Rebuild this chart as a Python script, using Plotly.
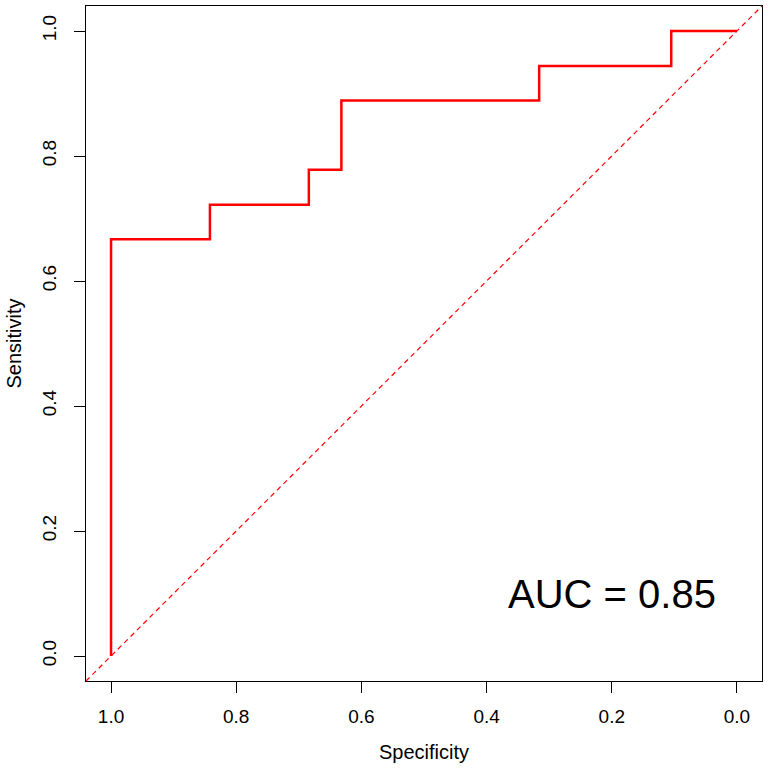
import plotly.graph_objects as go

# ROC curve points (specificity, sensitivity)
specificity = [1.0, 1.0, 0.842, 0.684, 0.632, 0.316, 0.105, 0.0]
sensitivity = [0.0, 0.667, 0.722, 0.778, 0.889, 0.944, 1.0, 1.0]
tick_vals = [0.0, 0.2, 0.4, 0.6, 0.8, 1.0]
tick_text = ["0.0", "0.2", "0.4", "0.6", "0.8", "1.0"]
auc_label = "AUC = 0.85"
auc_pos = (0.2, 0.1)

FONT = "Liberation Sans, Arial, sans-serif"

fig = go.Figure()
fig.add_trace(go.Scatter(
    x=specificity, y=sensitivity, mode="lines",
    line=dict(color="#FF0000", width=2.5, shape="hv"),
    showlegend=False, hoverinfo="skip",
))

# diagonal reference line (abline a=1, b=-1) spanning the plot region
fig.add_shape(type="line", xref="x domain", yref="y domain",
              x0=0, y0=0, x1=1, y1=1,
              line=dict(color="#FF0000", width=1.2, dash="5px,4px"))

fig.add_annotation(x=auc_pos[0], y=auc_pos[1], text=auc_label, showarrow=False,
                   font=dict(family=FONT, size=40, color="black"),
                   xanchor="center", yanchor="middle")

axis_common = dict(
    showgrid=False, zeroline=False, showline=True, linecolor="black",
    linewidth=1, mirror=True, ticks="outside", ticklen=11, tickwidth=1,
    tickcolor="black", tickvals=tick_vals, ticktext=tick_text,
    tickfont=dict(family=FONT, size=19, color="black"),
)

fig.update_layout(
    width=768, height=770,
    margin=dict(l=86, r=6, t=6, b=89),
    plot_bgcolor="white", paper_bgcolor="white",
    xaxis=dict(range=[1.04, -0.04], ticklabelstandoff=7, **axis_common,
               title=dict(text="Specificity", font=dict(family=FONT, size=20, color="black"), standoff=19)),
    yaxis=dict(range=[-0.04, 1.04], tickangle=-90, ticklabelstandoff=10, **axis_common,
               title=dict(text="Sensitivity", font=dict(family=FONT, size=20, color="black"), standoff=12)),
)

fig.write_html("out.html")
